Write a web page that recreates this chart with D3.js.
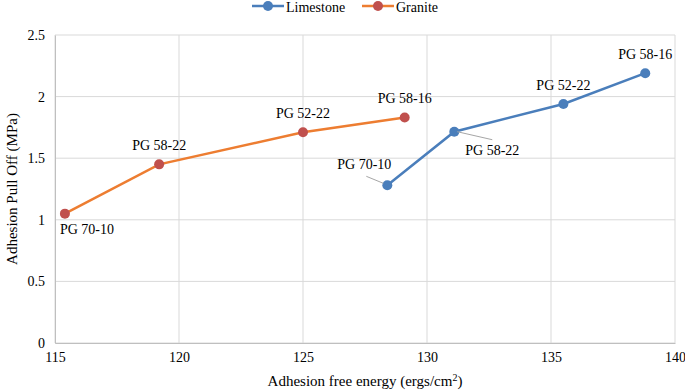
<!DOCTYPE html>
<html>
<head>
<meta charset="utf-8">
<script src="https://cdn.jsdelivr.net/npm/d3@7"></script>
<style>
  body { margin: 0; background: #fff; }
  text { font-family: "Liberation Serif", "Times New Roman", serif; fill: #000; }
</style>
</head>
<body>
<div id="chart"></div>
<script>
// Data
const limestoneX = [128.4, 131.1, 135.5, 138.8];
const limestoneY = [1.28, 1.715, 1.94, 2.19];
const limestoneLabels = ["PG 70-10", "PG 58-22", "PG 52-22", "PG 58-16"];

const graniteX = [115.4, 119.2, 125.0, 129.1];
const graniteY = [1.05, 1.45, 1.71, 1.83];
const graniteLabels = ["PG 70-10", "PG 58-22", "PG 52-22", "PG 58-16"];

const xTicks = [115, 120, 125, 130, 135, 140];
const yTicks = [0, 0.5, 1, 1.5, 2, 2.5];

// Dimensions
const margin = { top: 35, left: 55 },
    width = 685,
    height = 391,
    innerW = 675 - margin.left,
    innerH = 343 - margin.top;

const svg = d3.select('#chart')
    .append('svg')
    .attr('width', width)
    .attr('height', height);

const g = svg.append('g')
    .attr('transform', `translate(${margin.left}, ${margin.top})`);

const x = d3.scaleLinear().domain([115, 140]).range([0, innerW]);
const y = d3.scaleLinear().domain([0, 2.5]).range([innerH, 0]);

// Gridlines
g.selectAll('.vgrid').data(xTicks).enter().append('line')
    .attr('x1', d => x(d)).attr('x2', d => x(d))
    .attr('y1', 0).attr('y2', innerH)
    .attr('stroke', '#d9d9d9').attr('stroke-width', 1);
g.selectAll('.hgrid').data(yTicks).enter().append('line')
    .attr('x1', 0).attr('x2', innerW)
    .attr('y1', d => y(d)).attr('y2', d => y(d))
    .attr('stroke', '#d9d9d9').attr('stroke-width', 1);

// Axes (labels only)
const xAxis = g.append('g')
    .attr('transform', `translate(0, ${innerH})`)
    .call(d3.axisBottom(x).tickValues(xTicks).tickSize(0).tickPadding(9));
xAxis.select('.domain').attr('stroke', '#bfbfbf');
xAxis.selectAll('text').style('font-size', '14px').style('font-family', '"Liberation Serif", serif');

const yAxis = g.append('g')
    .call(d3.axisLeft(y).tickValues(yTicks).tickSize(0).tickPadding(10).tickFormat(d3.format('')));
yAxis.select('.domain').attr('stroke', '#bfbfbf');
yAxis.selectAll('text').style('font-size', '14px').style('font-family', '"Liberation Serif", serif');

// Series
const line = d3.line().x(d => x(d[0])).y(d => y(d[1]));
const limestone = limestoneX.map((v, i) => [v, limestoneY[i]]);
const granite = graniteX.map((v, i) => [v, graniteY[i]]);

const blue = '#4a7ebb', orange = '#ed7d31', red = '#c0504d';

g.append('path').datum(granite).attr('d', line)
    .attr('fill', 'none').attr('stroke', orange).attr('stroke-width', 2.5);
g.selectAll('.gdot').data(granite).enter().append('circle')
    .attr('cx', d => x(d[0])).attr('cy', d => y(d[1])).attr('r', 5).attr('fill', red);

g.append('path').datum(limestone).attr('d', line)
    .attr('fill', 'none').attr('stroke', blue).attr('stroke-width', 2.5);
g.selectAll('.ldot').data(limestone).enter().append('circle')
    .attr('cx', d => x(d[0])).attr('cy', d => y(d[1])).attr('r', 5).attr('fill', blue);

// Data labels (offsets in px relative to point)
const gOff = [[-5, 20, 'start'], [0, -14, 'middle'], [0, -14, 'middle'], [0, -15, 'middle']];
g.selectAll('.glab').data(granite).enter().append('text')
    .attr('x', (d, i) => x(d[0]) + gOff[i][0])
    .attr('y', (d, i) => y(d[1]) + gOff[i][1])
    .attr('text-anchor', (d, i) => gOff[i][2])
    .style('font-size', '14px')
    .text((d, i) => graniteLabels[i]);

const lOff = [[-23, -16, 'middle'], [38, 23, 'middle'], [0, -14, 'middle'], [0, -14, 'middle']];
g.selectAll('.llab').data(limestone).enter().append('text')
    .attr('x', (d, i) => x(d[0]) + lOff[i][0])
    .attr('y', (d, i) => y(d[1]) + lOff[i][1])
    .attr('text-anchor', (d, i) => lOff[i][2])
    .style('font-size', '14px')
    .text((d, i) => limestoneLabels[i]);

// Leader lines
const leaders = [[limestone[0], [-4, -2], [-21, -9]], [limestone[1], [3, 0], [38, 8]]];
leaders.forEach(([p, a, b]) => {
    g.append('line')
        .attr('x1', x(p[0]) + a[0]).attr('y1', y(p[1]) + a[1])
        .attr('x2', x(p[0]) + b[0]).attr('y2', y(p[1]) + b[1])
        .attr('stroke', '#a6a6a6').attr('stroke-width', 1);
});

// Axis titles
svg.append('text')
    .attr('transform', `translate(17, ${margin.top + innerH / 2}) rotate(-90)`)
    .attr('text-anchor', 'middle')
    .style('font-size', '15px')
    .text('Adhesion Pull Off (MPa)');

const xt = svg.append('text')
    .attr('x', margin.left + innerW / 2)
    .attr('y', 386)
    .attr('text-anchor', 'middle')
    .style('font-size', '15px');
xt.append('tspan').text('Adhesion free energy (ergs/cm');
xt.append('tspan').attr('dy', -5).style('font-size', '10px').text('2');
xt.append('tspan').attr('dy', 5).text(')');

// Legend
const legend = [['Limestone', blue, blue, 252], ['Granite', orange, red, 362]];
legend.forEach(([name, lc, dc, lx]) => {
    const lg = svg.append('g').attr('transform', `translate(${lx}, 6)`);
    lg.append('line').attr('x1', 0).attr('x2', 32).attr('y1', 0).attr('y2', 0)
        .attr('stroke', lc).attr('stroke-width', 2.5);
    lg.append('circle').attr('cx', 16).attr('cy', 0).attr('r', 5).attr('fill', dc);
    lg.append('text').attr('x', 34).attr('y', 6).style('font-size', '14px').text(name);
});
</script>
</body>
</html>
